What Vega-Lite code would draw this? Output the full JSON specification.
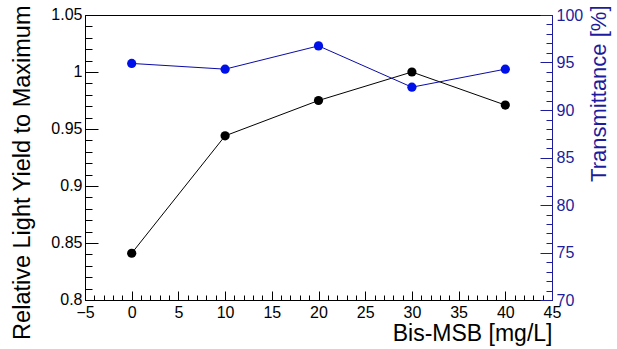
{
  "$schema": "https://vega.github.io/schema/vega-lite/v6.json",
  "autosize": {"type": "none"},
  "padding": {"left": 85, "top": 15, "right": 65, "bottom": 49},
  "width": 467,
  "height": 285,
  "config": {
    "view": {"stroke": "#000000", "strokeWidth": 1},
    "font": "Liberation Sans",
    "axis": {
      "labelFont": "Liberation Sans",
      "titleFont": "Liberation Sans",
      "titleFontWeight": "normal",
      "grid": false
    }
  },
  "data": {
    "values": [
      {"conc": 0, "lightYield": 0.841, "transmittance": 94.9},
      {"conc": 10, "lightYield": 0.944, "transmittance": 94.3},
      {"conc": 20, "lightYield": 0.975, "transmittance": 96.75},
      {"conc": 30, "lightYield": 1.0, "transmittance": 92.4},
      {"conc": 40, "lightYield": 0.971, "transmittance": 94.3}
    ]
  },
  "encoding": {
    "x": {
      "field": "conc",
      "type": "quantitative",
      "scale": {"domain": [-5, 45], "nice": false, "zero": false}
    }
  },
  "layer": [
    {
      "encoding": {
        "y": {
          "field": "lightYield",
          "type": "quantitative",
          "scale": {"domain": [0.8, 1.05], "nice": false, "zero": false}
        }
      },
      "layer": [
        {
          "mark": {"type": "line", "color": "#000000", "strokeWidth": 1},
          "encoding": {
            "x": {
              "field": "conc",
              "type": "quantitative",
              "axis": {
                "orient": "bottom",
                "values": [-5, 0, 5, 10, 15, 20, 25, 30, 35, 40, 45],
                "format": "~r",
                "labelFontSize": 16,
                "labelColor": "#000000",
                "labelPadding": 13,
                "tickSize": -9,
                "tickColor": "#000000",
                "domainColor": "#000000",
                "labelFlush": false,
                "labelOverlap": false,
                "title": "Bis-MSB [mg/L]",
                "titleFontSize": 23,
                "titleColor": "#000000",
                "titleAngle": 0,
                "titleAlign": "right",
                "titleBaseline": "alphabetic",
                "titleX": 467,
                "titleY": 40
              }
            },
            "y": {
              "field": "lightYield",
              "type": "quantitative",
              "axis": {
                "orient": "left",
                "values": [0.8, 0.85, 0.9, 0.95, 1.0, 1.05],
                "format": "~r",
                "labelFontSize": 16,
                "labelColor": "#000000",
                "labelPadding": 16,
                "labelOffset": -1,
                "tickSize": -13,
                "tickColor": "#000000",
                "domainColor": "#000000",
                "labelFlush": false,
                "labelOverlap": false,
                "title": "Relative Light Yield to Maximum",
                "titleFontSize": 23.5,
                "titleColor": "#000000",
                "titleAngle": 270,
                "titleAlign": "right",
                "titleBaseline": "alphabetic",
                "titleX": -56,
                "titleY": -10
              }
            }
          }
        },
        {
          "mark": {"type": "circle", "color": "#000000", "size": 85, "opacity": 1},
          "encoding": {
            "x": {
              "field": "conc",
              "type": "quantitative",
              "axis": {
                "orient": "bottom",
                "values": [-4, -3, -2, -1, 1, 2, 3, 4, 6, 7, 8, 9, 11, 12, 13, 14, 16, 17, 18, 19, 21, 22, 23, 24, 26, 27, 28, 29, 31, 32, 33, 34, 36, 37, 38, 39, 41, 42, 43, 44],
                "labels": false,
                "domain": false,
                "tickSize": -5,
                "tickColor": "#000000",
                "title": null
              }
            },
            "y": {
              "field": "lightYield",
              "type": "quantitative",
              "axis": {
                "orient": "left",
                "values": [0.81, 0.82, 0.83, 0.84, 0.86, 0.87, 0.88, 0.89, 0.91, 0.92, 0.93, 0.94, 0.96, 0.97, 0.98, 0.99, 1.01, 1.02, 1.03, 1.04],
                "labels": false,
                "domain": false,
                "tickSize": -7,
                "tickColor": "#000000",
                "title": null
              }
            }
          }
        }
      ],
      "resolve": {"axis": {"x": "independent", "y": "independent"}}
    },
    {
      "encoding": {
        "y": {
          "field": "transmittance",
          "type": "quantitative",
          "scale": {"domain": [70, 100], "nice": false, "zero": false}
        }
      },
      "layer": [
        {
          "mark": {"type": "line", "color": "#0a0aa8", "strokeWidth": 1},
          "encoding": {
            "x": {"field": "conc", "type": "quantitative", "axis": null},
            "y": {
              "field": "transmittance",
              "type": "quantitative",
              "axis": {
                "orient": "right",
                "values": [70, 75, 80, 85, 90, 95, 100],
                "format": "~r",
                "labelFontSize": 16,
                "labelColor": "#1c1c9c",
                "labelPadding": 16,
                "tickSize": -12,
                "tickColor": "#1c1c9c",
                "domainColor": "#1c1c9c",
                "labelFlush": false,
                "labelOverlap": false,
                "title": "Transmittance [%]",
                "titleFontSize": 22,
                "titleColor": "#1c1c9c",
                "titleAngle": 270,
                "titleAlign": "right",
                "titleBaseline": "alphabetic",
                "titleX": 53,
                "titleY": -10
              }
            }
          }
        },
        {
          "mark": {"type": "circle", "color": "#0010e8", "size": 85, "opacity": 1},
          "encoding": {
            "x": {"field": "conc", "type": "quantitative", "axis": null},
            "y": {
              "field": "transmittance",
              "type": "quantitative",
              "axis": {
                "orient": "right",
                "values": [71, 72, 73, 74, 76, 77, 78, 79, 81, 82, 83, 84, 86, 87, 88, 89, 91, 92, 93, 94, 96, 97, 98, 99],
                "labels": false,
                "domain": false,
                "tickSize": -6,
                "tickColor": "#1c1c9c",
                "title": null
              }
            }
          }
        }
      ],
      "resolve": {"axis": {"y": "independent"}}
    }
  ],
  "resolve": {"scale": {"y": "independent"}, "axis": {"x": "independent", "y": "independent"}}
}
